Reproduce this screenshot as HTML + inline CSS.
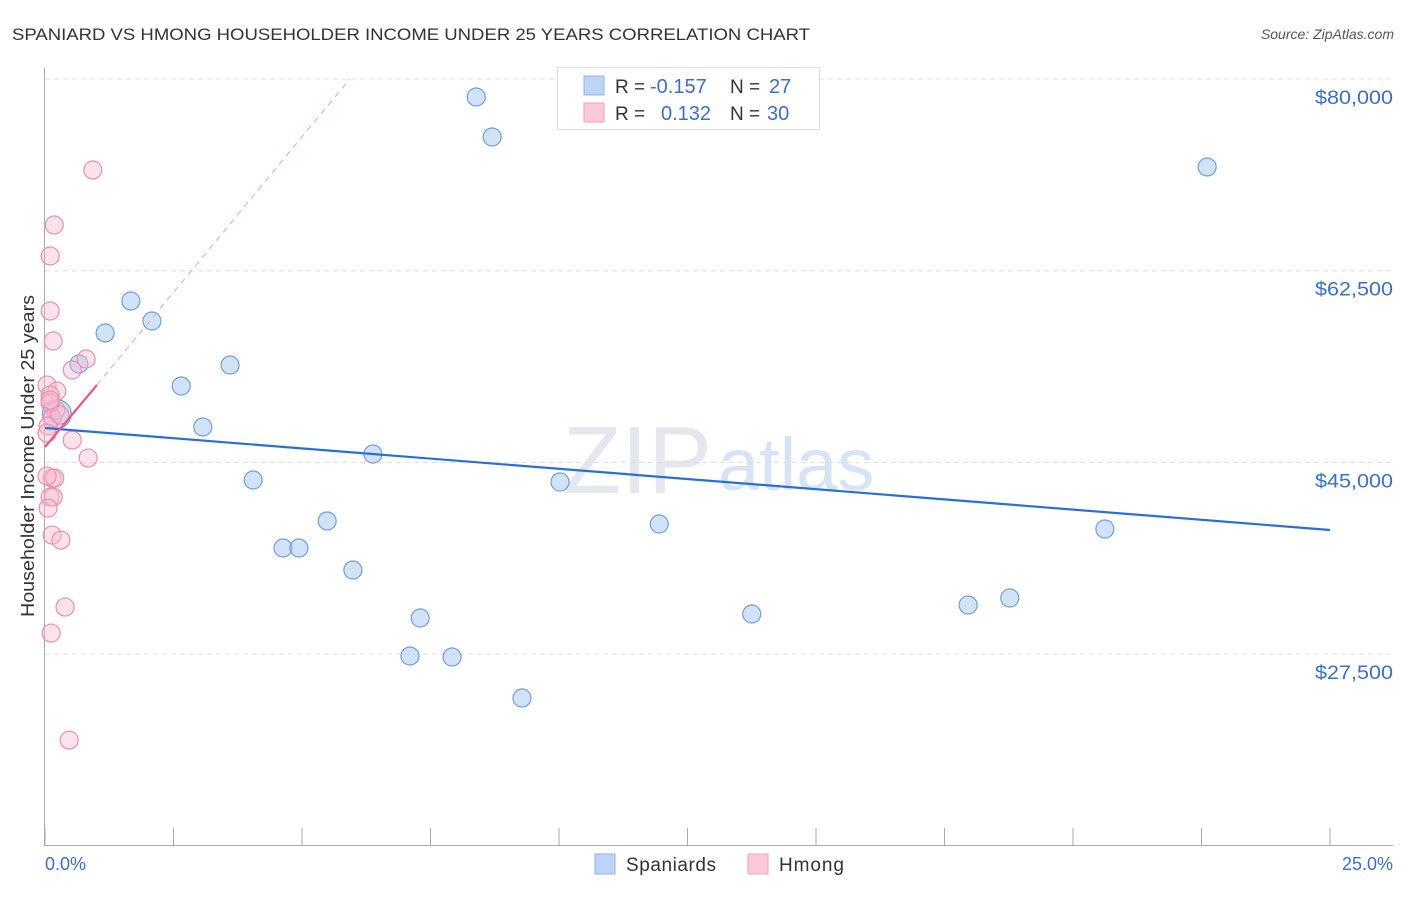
<!DOCTYPE html>
<html><head><meta charset="utf-8"><style>
body{margin:0;background:#fff;font-family:"Liberation Sans",sans-serif;}
svg text{font-family:"Liberation Sans",sans-serif;}
</style></head><body>
<svg id="chart" width="1406" height="892" xmlns="http://www.w3.org/2000/svg">
<text x="12" y="40" font-size="17" fill="#333" textLength="798" lengthAdjust="spacingAndGlyphs">SPANIARD VS HMONG HOUSEHOLDER INCOME UNDER 25 YEARS CORRELATION CHART</text>
<text x="1394" y="39" font-size="14" fill="#555" font-style="italic" text-anchor="end">Source: ZipAtlas.com</text>
<text x="712" y="493" font-size="96" fill="#e4e8ee" font-family="Liberation Serif" text-anchor="end">ZIP</text>
<text x="718" y="490" font-size="74" fill="#d6e4f6">atlas</text>
<g id="grid"></g>
<g id="axes"></g>
<g id="marks"></g>
<g>
<rect x="557.5" y="67.5" width="262" height="62" fill="#fff" stroke="#ddd"/>
<rect x="584" y="76" width="20" height="19" fill="#bcd4f6" stroke="#8fb3e8"/>
<rect x="584" y="103" width="20" height="19" fill="#fbc9d8" stroke="#f0a0b8"/>
<text x="615" y="93" font-size="19" fill="#333">R = </text><text x="650" y="93" font-size="20" fill="#3a70cc">-0.157</text>
<text x="730" y="93" font-size="19" fill="#333">N = </text><text x="769" y="93" font-size="20" fill="#3a70cc">27</text>
<text x="615" y="120" font-size="19" fill="#333">R = </text><text x="661" y="120" font-size="20" fill="#3a70cc">0.132</text>
<text x="730" y="120" font-size="19" fill="#333">N = </text><text x="767" y="120" font-size="20" fill="#3a70cc">30</text>
</g>
<g>
<rect x="595" y="854" width="20" height="20" fill="#bcd4f6" stroke="#8fb3e8"/>
<text x="626" y="871" font-size="19" fill="#333" textLength="90">Spaniards</text>
<rect x="748" y="854" width="20" height="20" fill="#fbc9d8" stroke="#f0a0b8"/>
<text x="779" y="871" font-size="19" fill="#333" textLength="65">Hmong</text>
</g>
<text x="45" y="870" font-size="18" fill="#3a70cc">0.0%</text>
<text x="1393" y="870" font-size="18" fill="#3a70cc" text-anchor="end">25.0%</text>
<text transform="translate(34,456) rotate(-90)" font-size="18" fill="#333" text-anchor="middle" textLength="322" lengthAdjust="spacingAndGlyphs">Householder Income Under 25 years</text>
</svg>
<script>
const yTicks=[80000,62500,45000,27500];
const yTickLabels=["$80,000","$62,500","$45,000","$27,500"];
const spanX=[8.39,8.70,22.61,1.67,2.08,1.17,0.66,3.60,2.65,3.07,6.38,4.05,10.02,11.95,20.62,5.49,4.63,4.94,5.99,7.30,13.75,17.96,18.77,7.10,7.92,9.28,0.23];
const spanY=[78357,74705,71967,59734,57908,56813,53983,53891,51974,48231,45766,43393,43210,39376,38920,39650,37185,37185,35177,30795,31160,31981,32620,27326,27235,23491,49418];
const spanSize=[1,1,1,1,1,1,1,1,1,1,1,1,1,1,1,1,1,1,1,1,1,1,1,1,1,1,1.6];
const hmX=[0.93,0.18,0.10,0.10,0.16,0.80,0.53,0.04,0.23,0.10,0.21,0.10,0.14,0.06,0.10,0.53,0.84,0.14,0.19,0.04,0.10,0.16,0.06,0.14,0.31,0.39,0.12,0.47,0.04,0.29];
const hmY=[71693,66672,63842,58821,56082,54439,53435,52059,51511,51146,49777,50416,49047,48317,50690,47039,45396,43569,43569,43752,41835,41835,40830,38366,37909,31793,29420,19649,47678,49321];
const spanTrend=[[0,48140],[25,38829]];
const hmTrendSolid=[[0,46405],[1.01,52065]];
const hmTrendDash=[[1.01,52065],[5.93,80000]];
const xTicks=[0,2.5,5,7.5,10,12.5,15,17.5,20,22.5,25];

const sx=p=>45+p*1285/25;
const sy=v=>79+(80000-v)*191.7/17500;
const NS="http://www.w3.org/2000/svg";
function mk(tag,attrs,parent){const e=document.createElementNS(NS,tag);for(const k in attrs)e.setAttribute(k,attrs[k]);parent.appendChild(e);return e;}
const grid=document.getElementById('grid'),axes=document.getElementById('axes'),marks=document.getElementById('marks');
yTicks.forEach((t,i)=>{
  const l=mk('line',{x1:45,x2:1393,y1:sy(t),y2:sy(t),stroke:'#ddd','stroke-dasharray':'5,4'},grid);
  
  
  const tx=mk('text',{x:1393,y:sy(t)+25,'font-size':19,fill:'#3a70cc','text-anchor':'end',textLength:78,lengthAdjust:'spacingAndGlyphs'},grid);
  tx.textContent=yTickLabels[i];
  
  
});
const ya=mk('line',{x1:44.5,x2:44.5,y1:68,y2:845,stroke:'#aaa'},axes);


const xa=mk('line',{x1:44,x2:1393,y1:845.5,y2:845.5,stroke:'#aaa'},axes);


xTicks.forEach(t=>{
  const l=mk('line',{x1:sx(t),x2:sx(t),y1:828,y2:845,stroke:'#aaa'},axes);
  
  
});
spanX.forEach((x,i)=>{
  const c=mk('circle',{cx:sx(x),cy:sy(spanY[i]),r:9*spanSize[i],fill:'rgba(165,198,240,0.5)',stroke:'#6d9fe0','stroke-width':1.2},marks);
  
  
});
hmX.forEach((x,i)=>{
  const c=mk('circle',{cx:sx(x),cy:sy(hmY[i]),r:9,fill:'rgba(248,185,205,0.4)',stroke:'#ee8eab','stroke-width':1.2},marks);
  
  
});
const t1=mk('line',{x1:sx(spanTrend[0][0]),y1:sy(spanTrend[0][1]),x2:sx(spanTrend[1][0]),y2:sy(spanTrend[1][1]),stroke:'#2a6fd6','stroke-width':2.2},marks);


const t2=mk('line',{x1:sx(hmTrendSolid[0][0]),y1:sy(hmTrendSolid[0][1]),x2:sx(hmTrendSolid[1][0]),y2:sy(hmTrendSolid[1][1]),stroke:'#e55a88','stroke-width':2.2},marks);


const t3=mk('line',{x1:sx(hmTrendDash[0][0]),y1:sy(hmTrendDash[0][1]),x2:sx(hmTrendDash[1][0]),y2:sy(hmTrendDash[1][1]),stroke:'#eaa0b8','stroke-width':1,'stroke-dasharray':'6,5'},marks);


</script>
</body></html>
